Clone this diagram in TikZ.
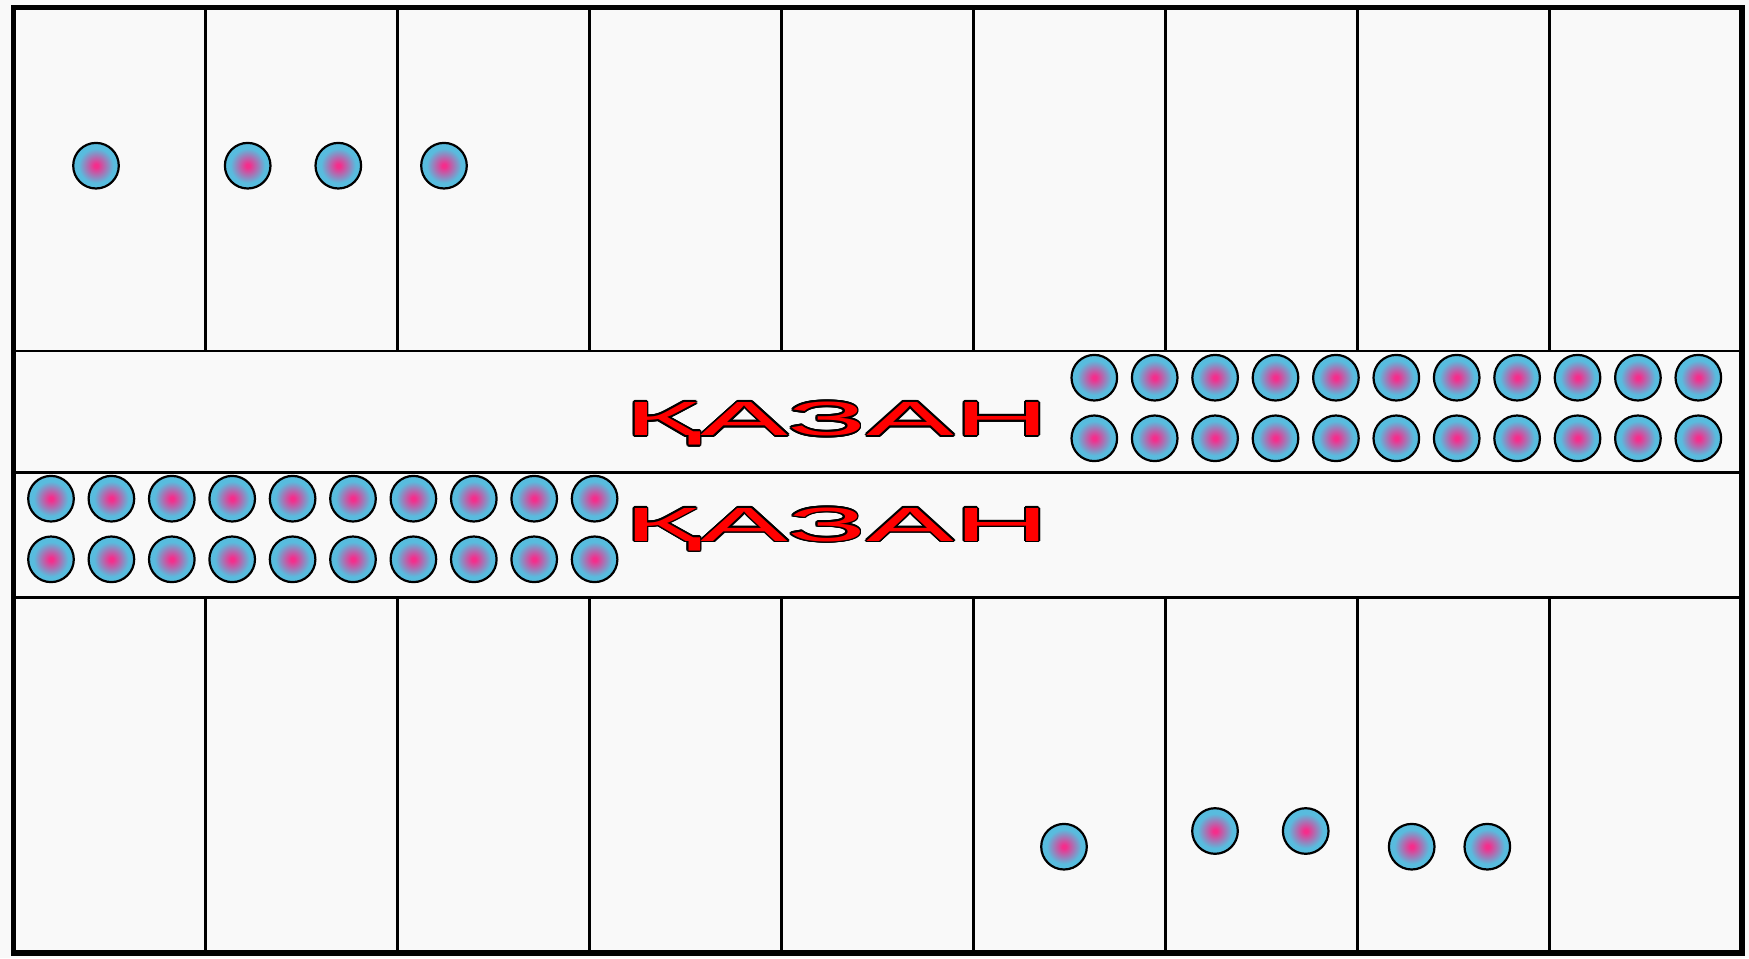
\documentclass[tikz,border=0pt]{standalone}
\usepackage{fontspec}
\newfontfamily\wordart[FakeStretch=2.74]{Liberation Sans}
\definecolor{ballpink}{RGB}{245,45,140}
\definecolor{ballblue}{RGB}{88,188,222}
\definecolor{paper}{RGB}{249,249,249}
\pgfdeclareradialshading{ballshade}{\pgfpoint{0bp}{0bp}}{color(0bp)=(ballpink); color(2bp)=(ballpink); color(19bp)=(ballblue); color(25bp)=(ballblue); color(50bp)=(ballblue)}
\begin{document}
\begin{tikzpicture}[x=0.5pt,y=-0.5pt,
  ball/.style={circle,draw=black,line width=1.1pt,minimum size=22.8pt,inner sep=0pt,shading=ballshade},
  gridline/.style={line width=1.05pt},
  frame/.style={line width=2.8pt},
  word/.style={font=\wordart\fontsize{24pt}{24pt}\selectfont, text=red, anchor=base, inner sep=0pt},
  wordedge/.style={word, text=black}]
\useasboundingbox (0,0) rectangle (1749,958);
\fill[paper] (0,0) rectangle (1749,958);
% horizontal band lines
\draw[gridline] (13.5,351) -- (1742,351);
\draw[gridline] (13.5,472.5) -- (1742,472.5);
\draw[gridline] (13.5,597.5) -- (1742,597.5);
% vertical lines (top and bottom sections)
\foreach \k in {1,...,8}{
  \draw[gridline] ({13.5+192*\k},7.5) -- ({13.5+192*\k},351);
  \draw[gridline] ({13.5+192*\k},597.5) -- ({13.5+192*\k},953);
}
% frame
\draw[frame] (13.5,7.5) rectangle (1742,953);
% words: black outline made of offset copies, red word on top
\foreach \a [count=\i] in {0,22.5,...,337.5}{
  \node[wordedge] (w1e\i) at ({836.7+1.7*cos(\a)},{435.5+1.7*sin(\a)}) {ҚАЗАН};
  \node[wordedge] (w2e\i) at ({836.7+1.7*cos(\a)},{541.2+1.7*sin(\a)}) {ҚАЗАН};
}
\node[word] (w1) at (836.7,435.5) {ҚАЗАН};
\node[word] (w2) at (836.7,541.2) {ҚАЗАН};
% top balls
\node[ball] (t1) at (96,165.7) {};
\node[ball] (t2) at (247.7,165.7) {};
\node[ball] (t3) at (338.3,165.7) {};
\node[ball] (t4) at (444,165.7) {};
% bottom balls
\node[ball] (d1) at (1064,846.7) {};
\node[ball] (d2) at (1215,831) {};
\node[ball] (d3) at (1305.7,831) {};
\node[ball] (d4) at (1411.7,846.7) {};
\node[ball] (d5) at (1487.3,846.7) {};
% right band balls
\foreach \i in {0,...,10}{
  \node[ball] (ra\i) at ({1094.3+60.4*\i},377.7) {};
  \node[ball] (rb\i) at ({1094.3+60.4*\i},438.3) {};
}
% left band balls
\foreach \i in {0,...,9}{
  \node[ball] (la\i) at ({51+60.4*\i},498.7) {};
  \node[ball] (lb\i) at ({51+60.4*\i},559.3) {};
}
\end{tikzpicture}
\end{document}
